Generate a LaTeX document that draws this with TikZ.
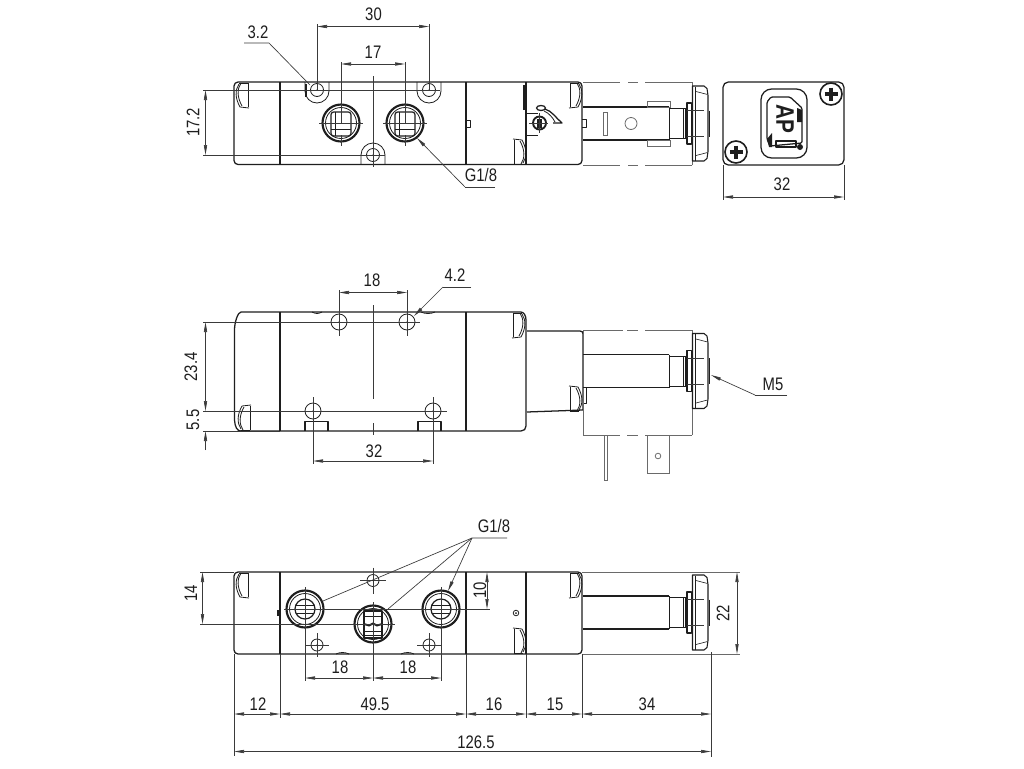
\documentclass[tikz,border=0pt]{standalone}
\usepackage{fontspec}
\setmainfont{Liberation Sans}[FakeStretch=0.82]
\usetikzlibrary{arrows.meta}
\definecolor{ink}{HTML}{1E1E1E}
\definecolor{dimc}{HTML}{3A3A3A}
\definecolor{ghost}{HTML}{6A6A6A}
\tikzset{
  x=0.75pt,y=-0.75pt,
  body/.style={draw=ink,line width=0.95pt,line join=round},
  part/.style={draw=ink,line width=0.6pt,line join=round},
  thick part/.style={draw=ink,line width=1.7pt},
  dimline/.style={draw=dimc,line width=0.5pt},
  ghostline/.style={draw=ghost,line width=0.6pt},
  dimarrows/.style={dimline,{Triangle[length=7.5pt,width=2.4pt]}-{Triangle[length=7.5pt,width=2.4pt]}},
  tipend/.style={dimline,-{Triangle[length=7.5pt,width=2.4pt]}},
  lab/.style={inner sep=0pt,text=ink,font=\fontsize{13.6}{15}\selectfont},
  vlab/.style={lab,rotate=90},
}
% solenoid end, drawn around the row's centre line (y = 0)
\newcommand{\Solenoid}{%
  \draw[body] (583,-16.5) -- (669,-16.5) (583,16.5) -- (669,16.5);
  \draw[part] (669,-16.5) -- (669,16.5);
  \draw[part] (669,-15) -- (686,-15) (669,15) -- (686,15);
  \draw[part] (683,-15) -- (683,15) (685,-15) -- (685,15);
  \draw[part,line width=0.8pt] (687,-20.5) rectangle (691.5,20.5);
  \draw[part,line width=0.8pt] (692.5,-37.5) -- (704,-37.5) -- (707,-35) -- (708,-28) -- (708,28) -- (707,35) -- (704,37.5) -- (692.5,37.5) -- cycle;
  \draw[part,line width=0.45pt] (695.5,-37) -- (695.5,37);
  \draw[part,line width=0.45pt] (696,-32) -- (707.5,-29) (696,32) -- (707.5,29);
  \draw[thick part,line width=1.2pt] (709.5,-13) -- (709.5,13);
  \draw[dimline] (687,-13) -- (704,-13) (687,13) -- (704,13);
}
% clip detail: straight back at x=0, bulge towards +x, foot at y=+24
\newcommand{\ClipMark}[4]{%
  \begin{scope}[shift={(#1,#2)},xscale=#3,yscale=#4]
    \draw[part] (0,0) -- (0,24) (0,0) -- (9,0);
    \draw[part] (7,0) .. controls (11,6) and (11,14) .. (6,23);
    \draw[part] (9,1) .. controls (13,7) and (13,15) .. (8,24) -- (-1,25);
  \end{scope}}
\newcommand{\CrossHole}[4]{%
  \draw[part] (#1,#2) circle[radius=#3];
  \draw[dimline] ({#1-#4},#2) -- ({#1+#4},#2) (#1,{#2-#4}) -- (#1,{#2+#4});
  \fill[ink] (#1,#2) circle[radius=0.7];}
\newcommand{\Screw}[2]{%
  \draw[body,fill=white,line width=1.2pt] (#1,#2) circle[radius=11];
  \draw[ink,line width=2.6pt] ({#1-6.5},#2) -- ({#1+6.5},#2) (#1,{#2-6.5}) -- (#1,{#2+6.5});}
\begin{document}
\begin{tikzpicture}
\useasboundingbox (0,0) rectangle (1024,768);
\fill[white] (0,0) rectangle (1024,768);

%% ------------------------------- TOP VIEW
\draw[body,rounded corners=3] (234,82) rectangle (582,164.5);
\draw[body] (280,82) -- (280,164.5) (466,82) -- (466,164.5) (526,82) -- (526,164.5);
\draw[part] (466,120) -- (470,120) -- (470,127) -- (466,127);
\draw[thick part] (524.5,85) -- (524.5,110);
\ClipMark{248}{83}{-1}{1}
\ClipMark{570}{83}{1}{1}
\ClipMark{514}{164}{1}{-1}
% coil outline
\draw[ghostline] (583,82) -- (620,82) (628,82) -- (638,82) (645,82) -- (692,82)
                 (583,165) -- (620,165) (628,165) -- (638,165) (645,165) -- (692,165) (692,82) -- (692,165);
\begin{scope}[shift={(0,123.5)}]
  \Solenoid
\end{scope}
\draw[ghostline] (603,112) rectangle (607,135);
\draw[ghostline] (631,123.5) circle[radius=6];
\draw[ghostline] (647,101) rectangle (670,107) (647,140) rectangle (670,146);
\draw[part] (582,119) -- (586,119) -- (586,127) -- (582,127);
% manual override
\draw[part] (526,113) -- (538,113) (526,135) -- (538,135);
\draw[body,fill=white,line width=1.4pt] (539.5,123) circle[radius=6.5];
\draw[thick part,line width=1.2pt] (538,118.5) -- (538,127.5) (541,118.5) -- (541,127.5);
\draw[body] (541,108) ellipse[x radius=4.5,y radius=2.5];
\draw[body] (545,109) .. controls (552,111) and (556,118) .. (562,123) -- (553,123);
\draw[part] (544,111) .. controls (549,113) and (553,118) .. (555,122);
\draw[dimline] (529,123) -- (548,123) (539.5,113) -- (539.5,133);
% mounting lugs and holes
\draw[part] (305,82) -- (305,91) arc[start angle=180,end angle=0,radius=12] -- (329,82);
\draw[part] (417,82) -- (417,91) arc[start angle=180,end angle=0,radius=12] -- (441,82);
\draw[part] (361,164) -- (361,155) arc[start angle=180,end angle=360,radius=12] -- (385,164);
\draw[thick part,line width=1.5pt] (306,84) -- (306,97);
\CrossHole{317}{90}{6.5}{0}
\CrossHole{429}{90}{6.5}{0}
\CrossHole{373}{155}{6.5}{0}
% ports
\foreach \px in {341,405}{
  \draw[body,line width=1.6pt] (\px,123) circle[radius=18.5];
  \draw[part] (\px,123) circle[radius=15.5];
  \draw[part,line width=0.9pt,rounded corners=2] ({\px-10},112) rectangle ({\px+10},136);
  \draw[part] ({\px-10},129) -- ({\px+10},129);
  \draw[part] ({\px-6},112) -- ({\px-6},136);
  \draw[dimline] ({\px-22},123) -- ({\px+22},123) (\px,135) -- (\px,146);
}
% dimensions
\draw[dimline] (373,76) -- (373,167);
\draw[dimline] (317,24) -- (317,90) (429,24) -- (429,90) (341,62) -- (341,123) (405,62) -- (405,123);
\draw[dimline] (203,90) -- (440,90) (203,155) -- (385,155);
\draw[dimarrows] (317,26.5) -- (429,26.5);
\draw[dimarrows] (341,64) -- (405,64);
\draw[dimarrows] (205.5,90) -- (205.5,155);
\node[lab] (t30) at (373.5,14) {30};
\node[lab] (t17) at (373,52) {17};
\node[lab] (t32a) at (258,32) {3.2};
\node[vlab] (t172) at (193,122.5) {17.2};
\node[lab] (tg1) at (481,175) {G1/8};
\draw[dimline] (244,43) -- (269,43) -- (310,85);
\draw[dimline] (495,187) -- (465,187);
\draw[tipend] (465,187) -- (417,138);

%% ------------------------------- SOLENOID END VIEW
\draw[body,rounded corners=4] (723,82) rectangle (844,165);
\draw[body,rounded corners=8] (761,89) rectangle (807,158);
\draw[body,rounded corners=1] (771,97) -- (790,97) -- (802,108) -- (802,143) -- (770,146) -- (767,139) -- (767,102) -- cycle;
\fill[ink] (797,108) -- (802,110) -- (802,122) -- (797,122) -- cycle;
\fill[ink] (767,139) -- (772,133) -- (772,147) -- (769,147) -- cycle;
\fill[ink] (800,147) circle[radius=3];
\draw[body] (776,141) rectangle (796,147);
\node[inner sep=0pt,rotate=-90,text=ink,font=\bfseries\fontsize{19}{20}\selectfont] (tap) at (785,119) {AP};
\Screw{831}{94}
\Screw{736}{152}
\draw[dimline] (723,165) -- (723,200) (844,165) -- (844,200);
\draw[dimarrows] (723,197) -- (844,197);
\node[lab] (t32b) at (782,184) {32};

%% ------------------------------- MIDDLE VIEW
\draw[body] (241,312) -- (521,312) .. controls (524,312) and (526,316) .. (526,320)
  -- (526,426) .. controls (526,429) and (524,431) .. (521,431)
  -- (241,431) .. controls (237,431) and (235,427) .. (234.5,420)
  -- (234.5,330) .. controls (234.5,322) and (238,312) .. (241,312) -- cycle;
\draw[body] (280,312) -- (280,431) (466,312) -- (466,431);
\draw[body] (527,331) -- (580,331) .. controls (582,331) and (583,332) .. (583,334)
  -- (583,410) -- (527,412);
\draw[part] (312,312) .. controls (316,314) and (318,314) .. (322,312)
            (421,312) .. controls (425,314) and (431,314) .. (435,312);
\ClipMark{513}{313}{1}{1}
\ClipMark{250}{430}{-1}{-1}
\ClipMark{570}{411}{1}{-1}
\draw[part] (583,387) -- (586,387) -- (586,403) -- (583,403);
\draw[ghostline] (583,330) -- (623,330) (627,330) -- (638,330) (645,330) -- (692,330) (692,330) -- (692,435)
                 (583,330) -- (583,435) (583,435) -- (620,435) (627,435) -- (638,435) (645,435) -- (692,435);
\begin{scope}[shift={(0,371)}]
  \Solenoid
\end{scope}
\draw[ghostline] (604,435) rectangle (607,480);
\draw[ghostline] (647,435) -- (647,473) -- (669,473) -- (669,435);
\draw[ghostline] (658,456) circle[radius=2.8];
\draw[body] (305,431) -- (305,421.5) -- (328,421.5) -- (328,431);
\draw[body] (418,431) -- (418,421.5) -- (441,421.5) -- (441,431);
\CrossHole{339}{322}{8}{14}
\CrossHole{407}{322}{8}{0}
\CrossHole{313}{411}{8}{14}
\CrossHole{433}{411}{8}{14}
% dimensions
\draw[dimline] (373,305) -- (373,399) (373,423) -- (373,435);
\draw[dimline] (339,290) -- (339,336) (407,290) -- (407,336);
\draw[dimline] (313,397) -- (313,464) (433,397) -- (433,464);
\draw[dimline] (203,322) -- (420,322) (203,411) -- (447,411) (203,431) -- (280,431);
\draw[dimarrows] (339,292.5) -- (407,292.5);
\draw[dimarrows] (313,461) -- (433,461);
\draw[dimarrows] (205.5,322) -- (205.5,411);
\draw[tipend] (205.5,450) -- (205.5,431);
\node[lab] (t18a) at (372,280) {18};
\node[lab] (t32c) at (374,451) {32};
\node[lab] (t42) at (455,275) {4.2};
\node[vlab] (t234) at (191,367) {23.4};
\node[vlab] (t55) at (193,420) {5.5};
\node[lab] (tm5) at (773,384) {M5};
\draw[dimline] (471,287) -- (443,287);
\draw[tipend] (443,287) -- (414,316);
\draw[dimline] (787,395) -- (755,395);
\draw[tipend] (755,395) -- (711,375);

%% ------------------------------- BOTTOM VIEW
\draw[body,rounded corners=3] (234,572) rectangle (582,654);
\draw[body] (280,572) -- (280,654) (466,572) -- (466,654) (526,572) -- (526,654);
\draw[thick part,line width=1.3pt] (278,610) -- (278,616);
\ClipMark{248}{573}{-1}{1}
\ClipMark{570}{573}{1}{1}
\ClipMark{514}{653}{1}{-1}
\draw[part] (516,613) circle[radius=2.8];
\fill[ink] (516,613) circle[radius=1];
\draw[part] (336,654) .. controls (340,652) and (345,652) .. (349,654)
            (401,654) .. controls (405,652) and (410,652) .. (414,654);
\draw[ghostline] (582,572) -- (740,572) (582,654) -- (740,654);
\begin{scope}[shift={(0,612.5)}]
  \Solenoid
\end{scope}
\foreach \px in {305,441}{
  \draw[body,line width=1.6pt] (\px,609) circle[radius=18.5];
  \draw[part] (\px,609) circle[radius=15.5];
  \draw[part,line width=0.9pt] (\px,609) circle[radius=10];
  \draw[part] ({\px-9},605) -- ({\px+9},605) ({\px-9},613) -- ({\px+9},613);
}
\draw[body,line width=1.6pt] (373,624) circle[radius=18.5];
\draw[part] (373,624) circle[radius=15.5];
\draw[part,line width=0.9pt] (364,611) rectangle (382,638);
\draw[part] (364,616) -- (382,616) (364,631) -- (382,631) (364,635) -- (382,635);
\draw[thick part,line width=1.4pt] (364,624) -- (369,625.5) -- (373,623.5) -- (377,625.5) -- (382,624);
\CrossHole{373}{580.5}{6}{13}
\CrossHole{317}{645}{6}{12}
\CrossHole{429}{645}{6}{12}
% dimensions
\draw[dimline] (305,587) -- (305,681) (441,587) -- (441,681) (373,602) -- (373,681);
\draw[dimline] (200,572) -- (234,572) (200,624) -- (395,624) (284,609) -- (490,609);
\draw[dimline] (234,654) -- (234,756) (280,654) -- (280,718) (466,654) -- (466,718)
               (526,654) -- (526,718) (582,654) -- (582,718) (711,652) -- (711,757);
\draw[dimarrows] (202.5,572) -- (202.5,624);
\draw[dimarrows] (487,572) -- (487,609);
\draw[dimarrows] (737,572) -- (737,654);
\draw[dimarrows] (305,678) -- (373,678);
\draw[dimarrows] (373,678) -- (441,678);
\draw[dimarrows] (234,714) -- (280,714);
\draw[dimarrows] (280,714) -- (466,714);
\draw[dimarrows] (466,714) -- (526,714);
\draw[dimarrows] (526,714) -- (582,714);
\draw[dimarrows] (582,714) -- (711,714);
\draw[dimarrows] (234,751.5) -- (711,751.5);
\node[vlab] (t14) at (191,593) {14};
\node[vlab] (t10) at (480,590) {10};
\node[vlab] (t22) at (723,613) {22};
\node[lab] (t18b) at (340,667) {18};
\node[lab] (t18c) at (408,667) {18};
\node[lab] (t12) at (258,704) {12};
\node[lab] (t495) at (375,704) {49.5};
\node[lab] (t16) at (494,704) {16};
\node[lab] (t15) at (555,704) {15};
\node[lab] (t34) at (647,704) {34};
\node[lab] (t1265) at (476,742) {126.5};
\node[lab] (tg2) at (494,526) {G1/8};
\coordinate (fan) at (472,538);
\draw[dimline] (507,538) -- (fan) -- (323,601);
\draw[dimline] (fan) -- (388,609);
\draw[tipend] (fan) -- (448,591);
\end{tikzpicture}
\end{document}
